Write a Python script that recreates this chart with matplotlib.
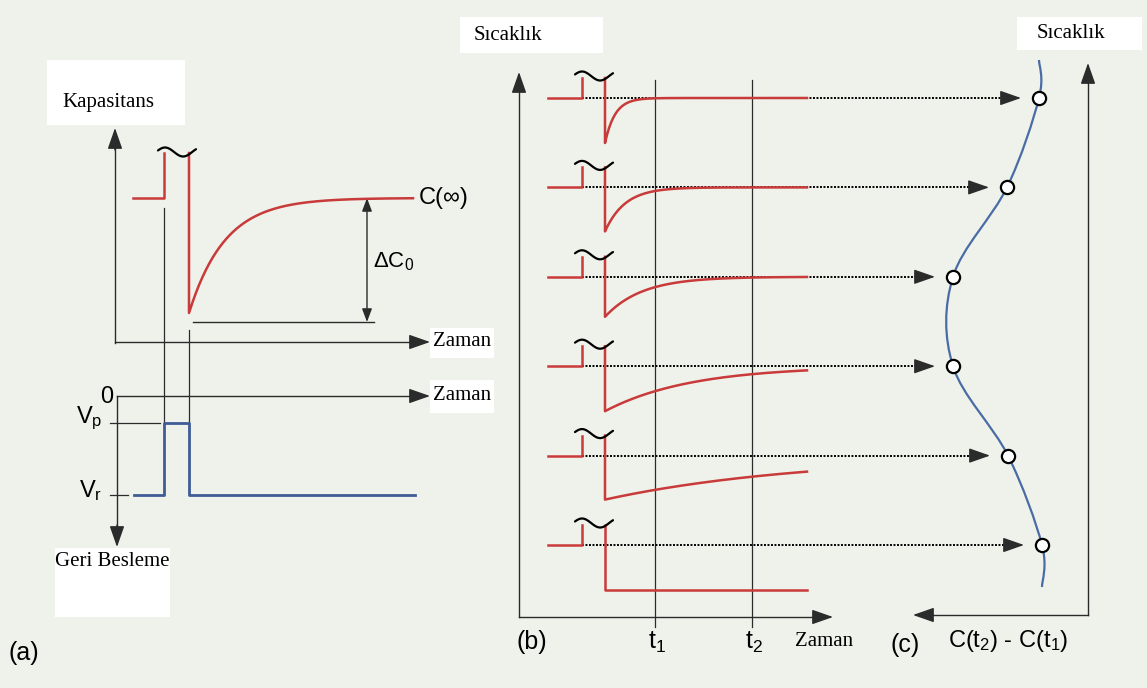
import numpy as np
import matplotlib.pyplot as plt
from matplotlib.path import Path
from matplotlib.patches import PathPatch, Rectangle

plt.rcParams['mathtext.fontset'] = 'custom'
plt.rcParams['mathtext.rm'] = 'Liberation Sans'
plt.rcParams['mathtext.it'] = 'Liberation Sans:italic'

# --- data -----------------------------------------------------------------
# panel (a): single capacitance transient
tau_a = 36            # decay constant (px of time axis)
drop_a = 115          # capacitance drop after the filling pulse
# panel (b): transients at six temperatures (top row = highest temperature)
taus = [10, 20, 37, 85, 200, np.inf]
drops = [45, 44, 40, 45, 44, 45]
# panel (c): DLTS signal C(t2) - C(t1) for each row (px left of the baseline)
signal = [3, 35, 89, 89, 34, 0]

# --- layout ------------------------------------------------------------------
BG = '#eef2ea'
RED = '#c93a3a'
BLUE = '#3f5c97'
CBLUE = '#4a6ca6'
DARK = '#2b2b2b'
SERIF = 'Liberation Serif'
SANS = 'Liberation Sans'

fig = plt.figure(figsize=(11.47, 6.88), dpi=100, facecolor=BG)
ax = fig.add_axes([0, 0, 1, 1])
ax.set_xlim(0, 1147)
ax.set_ylim(688, 0)
ax.axis('off')
ax.set_facecolor(BG)


def arrow(x0, y0, x1, y1, lw=1.0):
    ax.annotate('', xy=(x1, y1), xytext=(x0, y0),
                arrowprops=dict(arrowstyle='-|>,head_length=1.0,head_width=0.35',
                                mutation_scale=13, lw=lw, color=DARK,
                                shrinkA=0, shrinkB=0))


def dblarrow(x, y0, y1):
    ax.annotate('', xy=(x, y1), xytext=(x, y0),
                arrowprops=dict(arrowstyle='<|-|>,head_length=0.8,head_width=0.3',
                                mutation_scale=10, lw=1.0, color=DARK,
                                shrinkA=0, shrinkB=0))


def tilde(x0, x1, y, a=4.5):
    xs = np.linspace(x0, x1, 60)
    t = (xs - x0) / (x1 - x0)
    ax.plot(xs, y + 3 - a * np.sin(2 * np.pi * t * 1.05 + 0.35), color='black', lw=1.6,
            solid_capstyle='round', zorder=5)


def box(x, y, w, h):
    ax.add_patch(Rectangle((x, y), w, h, facecolor='white', edgecolor='none', zorder=0))


# ============================ panel (a) ======================================
box(47, 60, 138, 65)
ax.text(62, 102, "Kapasitans", family=SERIF, fontsize=15, va='center')

# upper axes
ax.plot([115, 115], [343, 140], color=DARK, lw=1.0)
arrow(115, 150, 115, 128)
ax.plot([115, 420], [342, 342], color=DARK, lw=1.0)
arrow(410, 342, 430, 342)
box(430, 328, 64, 30)
ax.text(433, 342, "Zaman", family=SERIF, fontsize=15, va='center')

# transient
base_a, xp_a, xf_a, top_a = 198, 164, 189, 153
ax.plot([133, xp_a, xp_a], [base_a, base_a, top_a], color=RED, lw=1.8, zorder=4)
xs = np.linspace(xf_a, 413, 200)
ax.plot(np.r_[xf_a, xs], np.r_[top_a, base_a + drop_a * np.exp(-(xs - xf_a) / tau_a)],
        color=RED, lw=1.8, zorder=4)
tilde(158, 196, top_a - 4)
ax.text(419, 198, "C(∞)", family=SANS, fontsize=17, va='center')
dblarrow(367, base_a, base_a + drop_a + 9)
ax.plot([193, 374], [base_a + drop_a + 9] * 2, color=DARK, lw=1.0)
ax.text(373, 262, "ΔC$_\\mathrm{0}$", family=SANS, fontsize=16, va='center')

# connector lines between capacitance and bias plots
ax.plot([xp_a, xp_a], [208, 423], color=DARK, lw=0.9)
ax.plot([xf_a, xf_a], [330, 423], color=DARK, lw=0.9)

# lower axes (bias)
ax.plot([117, 420], [396, 396], color=DARK, lw=1.0)
arrow(410, 396, 430, 396)
box(430, 380, 64, 33)
ax.text(433, 396, "Zaman", family=SERIF, fontsize=15, va='center')
ax.plot([117, 117], [396, 535], color=DARK, lw=1.0)
arrow(117, 525, 117, 547)
ax.text(113, 397, "0", family=SANS, fontsize=17, va='center', ha='right')
ax.plot([110, 160], [423, 423], color=DARK, lw=0.9)
ax.plot([110, 128], [495, 495], color=DARK, lw=0.9)
ax.text(102, 418, "V$_\\mathrm{p}$", family=SANS, fontsize=17, va='center', ha='right')
ax.text(102, 491, "V$_\\mathrm{r}$", family=SANS, fontsize=17, va='center', ha='right')
ax.plot([134, xp_a, xp_a, xf_a, xf_a, 415], [495, 495, 423, 423, 495, 495],
        color=BLUE, lw=2.0, zorder=4)

box(55, 548, 115, 69)
ax.text(55, 562, "Geri Besleme", family=SERIF, fontsize=15, va='center')
ax.text(8, 653, "(a)", family=SANS, fontsize=18, va='center')

# ============================ panel (b) ======================================
box(460, 17, 143, 36)
ax.text(474, 35, "Sıcaklık", family=SERIF, fontsize=15, va='center')

ax.plot([519, 519], [617, 85], color=DARK, lw=1.0)
arrow(519, 92, 519, 72)
ax.plot([519, 823], [617, 617], color=DARK, lw=1.0)
arrow(813, 617, 833, 617)
t1x, t2x = 655, 752
for x in (t1x, t2x):
    ax.plot([x, x], [80, 627], color=DARK, lw=0.9)
ax.text(t1x + 2, 642, "t$_\\mathrm{1}$", family=SANS, fontsize=18, va='center', ha='center')
ax.text(t2x + 2, 642, "t$_\\mathrm{2}$", family=SANS, fontsize=18, va='center', ha='center')
ax.text(795, 642, "Zaman", family=SERIF, fontsize=15, va='center')
ax.text(517, 642, "(b)", family=SANS, fontsize=18, va='center')

row0, drow = 98, 89.4
x_start, x_up, x_fall, x_end = 548, 582, 605, 807
circ_base = 1042
circ_x = [circ_base - s for s in signal]
circ_y = []
for i, (tau, d) in enumerate(zip(taus, drops)):
    b = row0 + i * drow
    circ_y.append(b)
    cx = circ_base - signal[i]
    # dotted projection line to panel (c)
    tip = cx - 18
    ax.plot([x_up, tip - 10], [b, b], color='black', lw=1.4, ls=(0, (1, 0.8)), zorder=2)
    arrow(tip - 12, b, tip, b)
    # transient
    ax.plot([x_start, x_up, x_up], [b, b, b - 20], color=RED, lw=1.8, zorder=4)
    xs = np.linspace(x_fall, x_end, 200)
    ax.plot(np.r_[x_fall, xs], np.r_[b - 20, b + d * np.exp(-(xs - x_fall) / tau)],
            color=RED, lw=1.8, zorder=4)
    tilde(575, 613, b - 25)

# ============================ panel (c) ======================================
box(1017, 17, 125, 33)
ax.text(1037, 33, "Sıcaklık", family=SERIF, fontsize=15, va='center')
ax.plot([1088, 1088], [615, 75], color=DARK, lw=1.0)
arrow(1088, 83, 1088, 63)
ax.plot([1088, 923], [615, 615], color=DARK, lw=1.0)
arrow(933, 615, 913, 615)
ax.text(890, 645, "(c)", family=SANS, fontsize=18, va='center')
ax.text(948, 641, "C(t$_\\mathrm{2}$) - C(t$_\\mathrm{1}$)", family=SANS, fontsize=17, va='center')

# smooth curve through the signal points (Catmull-Rom -> cubic Bezier)
px = [circ_x[0]] + circ_x + [circ_x[-1]]
py = [60] + circ_y + [587]
pts = np.column_stack([px, py])
verts, codes = [pts[0]], [Path.MOVETO]
for k in range(len(pts) - 1):
    p0 = pts[max(k - 1, 0)]
    p1, p2 = pts[k], pts[k + 1]
    p3 = pts[min(k + 2, len(pts) - 1)]
    verts += [p1 + (p2 - p0) / 6, p2 - (p3 - p1) / 6, p2]
    codes += [Path.CURVE4] * 3
ax.add_patch(PathPatch(Path(verts, codes), facecolor='none', edgecolor=CBLUE, lw=1.6, zorder=4))
ax.plot(circ_x, circ_y, 'o', ms=9.5, mfc='white', mec='black', mew=1.6, zorder=6)

fig.savefig('out.png', dpi=100, facecolor=BG)
